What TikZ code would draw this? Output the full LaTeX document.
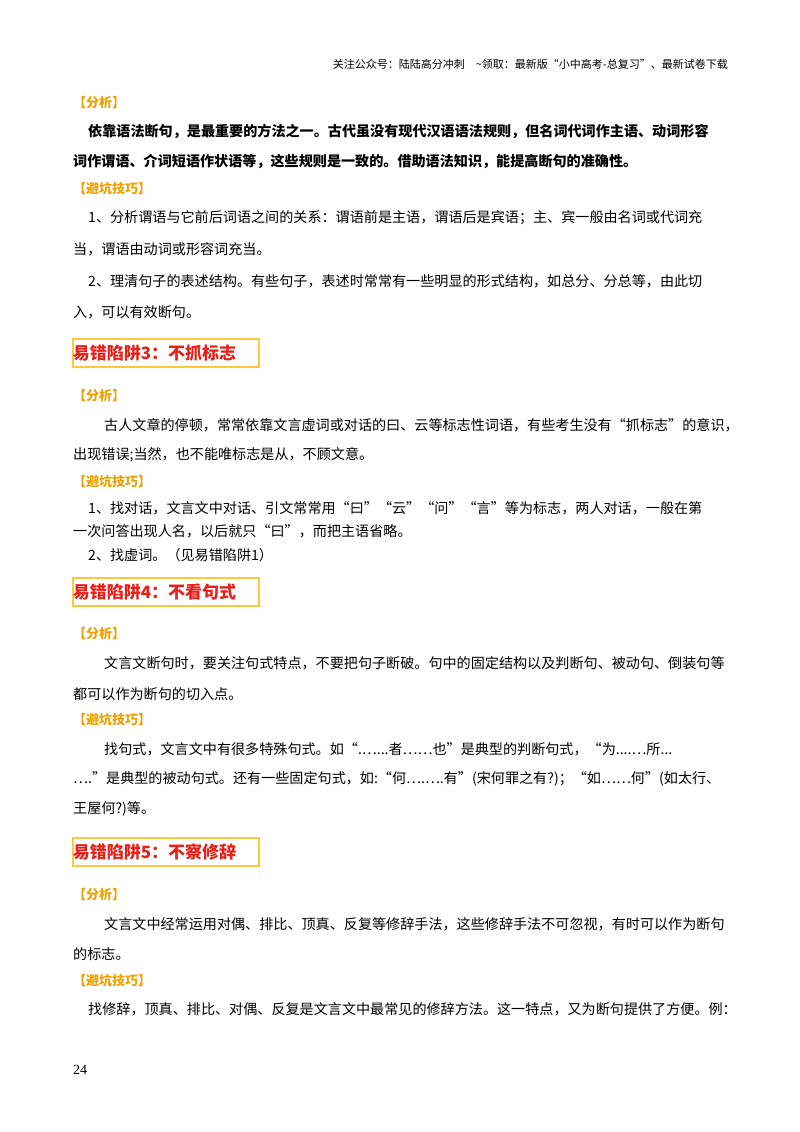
\documentclass[tikz,border=0pt]{standalone}
\usepackage{fontspec}
\setmainfont{Liberation Serif}
\newfontfamily\cjk{Noto Sans CJK SC}
\XeTeXlinebreaklocale "zh"
\XeTeXlinebreakskip=0pt plus 5pt
\definecolor{lab}{HTML}{F0A000}
\definecolor{hred}{HTML}{E8201A}
\definecolor{hbox}{HTML}{FFC83C}
\tikzset{
  txt/.style={anchor=west,inner sep=0pt,font=\cjk\fontsize{14.1}{15}\selectfont},
  btxt/.style={txt,font=\cjk\bfseries\fontsize{14.1}{15}\selectfont},
  lbl/.style={txt,text=lab,font=\cjk\bfseries\fontsize{13}{14}\selectfont},
  head/.style={anchor=west,inner sep=0pt,draw=hbox,line width=1.5pt,text=hred,font=\cjk\bfseries\fontsize{17}{18}\selectfont,minimum height=28pt,text width=186pt,align=left}
}
\begin{document}
\begin{tikzpicture}[x=1pt,y=-1pt]
\useasboundingbox (0,0) rectangle (800,1132);
\node[anchor=east,inner sep=0pt,font=\cjk\fontsize{11}{12}\selectfont] (hd) at (728,64) {关注公众号：陆陆高分冲刺\quad\~{}领取：最新版“小中高考-总复习”、最新试卷下载};
\node[lbl] (a1) at (73,103) {【分析】};
\node[btxt] (p1) at (88,131) {\hbox to 640pt{依靠语法断句，是最重要的方法之一。古代虽没有现代汉语语法规则，但名词代词作主语、动词形容}};
\node[btxt] (p2) at (73,161) {词作谓语、介词短语作状语等，这些规则是一致的。借助语法知识，能提高断句的准确性。};
\node[lbl] (b1) at (73,189) {【避坑技巧】};
\node[txt] (p3) at (88,218) {\hbox to 640pt{1、分析谓语与它前后词语之间的关系：谓语前是主语，谓语后是宾语；主、宾一般由名词或代词充}};
\node[txt] (p4) at (73,249) {当，谓语由动词或形容词充当。};
\node[txt] (p5) at (88,281) {\hbox to 640pt{2、理清句子的表述结构。有些句子，表述时常常有一些明显的形式结构，如总分、分总等，由此切}};
\node[txt] (p6) at (73,312) {入，可以有效断句。};
\node[head] (h3) at (72,353) {易错陷阱3：不抓标志};
\node[lbl] (a2) at (73,396) {【分析】};
\node[txt] (q1) at (104,425) {\hbox to 624pt{古人文章的停顿，常常依靠文言虚词或对话的曰、云等标志性词语，有些考生没有“抓标志”的意识，}};
\node[txt] (q2) at (73,455) {出现错误;当然，也不能唯标志是从，不顾文意。};
\node[lbl] (b2) at (73,482) {【避坑技巧】};
\node[txt] (q3) at (88,508) {1、找对话，文言文中对话、引文常常用“曰”“云”“问”“言”等为标志，两人对话，一般在第};
\node[txt] (q4) at (73,531) {一次问答出现人名，以后就只“曰”，而把主语省略。};
\node[txt] (q5) at (88,555) {2、找虚词。（见易错陷阱1）};
\node[head] (h4) at (72,592) {易错陷阱4：不看句式};
\node[lbl] (a3) at (73,634) {【分析】};
\node[txt] (r1) at (104,663) {\hbox to 624pt{文言文断句时，要关注句式特点，不要把句子断破。句中的固定结构以及判断句、被动句、倒装句等}};
\node[txt] (r2) at (73,694) {都可以作为断句的切入点。};
\node[lbl] (b3) at (73,720) {【避坑技巧】};
\node[txt] (r3) at (104,749) {\hbox to 624pt{找句式，文言文中有很多特殊句式。如“.…...者……也”是典型的判断句式，“为....…所...}};
\node[txt] (r4) at (73,779) {\hbox to 655pt{….”是典型的被动句式。还有一些固定句式，如:“何….….有”(宋何罪之有?)；“如……何”(如太行、}};
\node[txt] (r5) at (73,809) {王屋何?)等。};
\node[head] (h5) at (72,852) {易错陷阱5：不察修辞};
\node[lbl] (a4) at (73,895) {【分析】};
\node[txt] (s1) at (104,924) {\hbox to 624pt{文言文中经常运用对偶、排比、顶真、反复等修辞手法，这些修辞手法不可忽视，有时可以作为断句}};
\node[txt] (s2) at (73,954) {的标志。};
\node[lbl] (b4) at (73,981) {【避坑技巧】};
\node[txt] (s3) at (88,1009) {\hbox to 640pt{找修辞，顶真、排比、对偶、反复是文言文中最常见的修辞方法。这一特点，又为断句提供了方便。例：}};
\node[anchor=west,inner sep=0pt,font=\fontsize{14}{15}\selectfont] (pg) at (73,1070) {24};
\end{tikzpicture}
\end{document}
